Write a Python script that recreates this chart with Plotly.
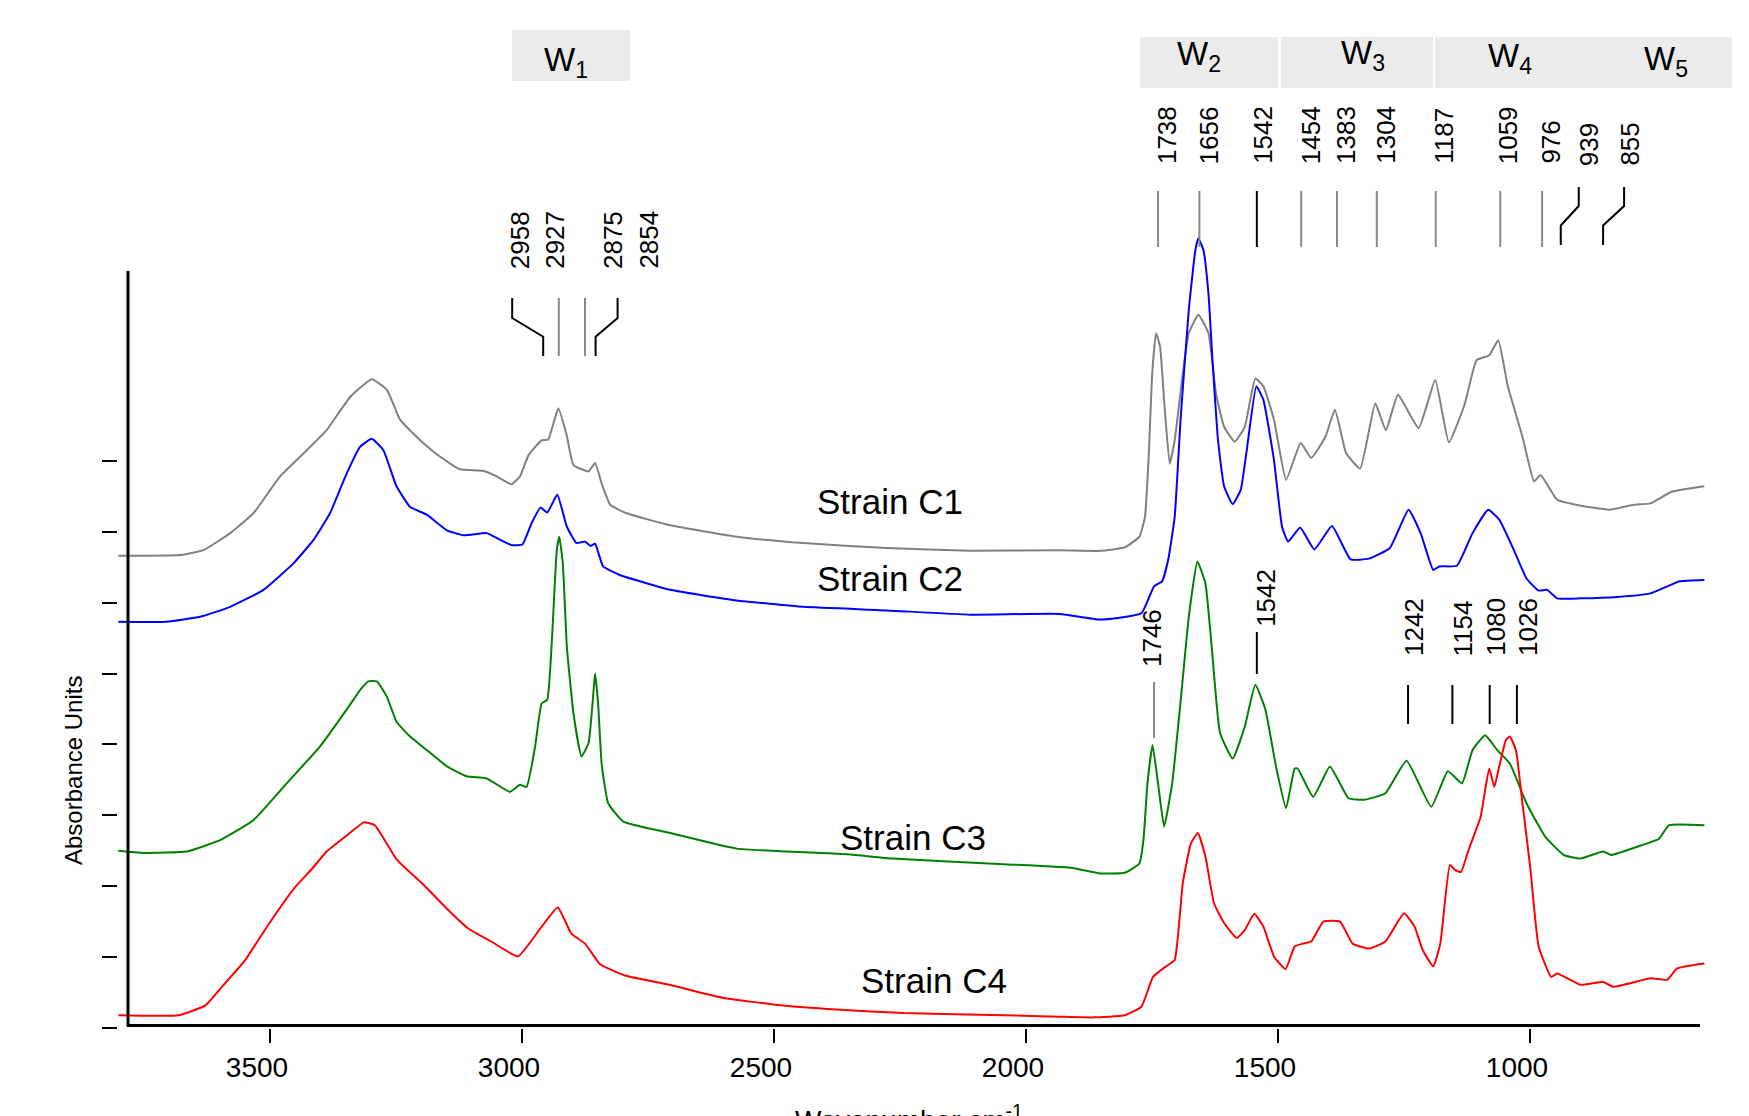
import plotly.graph_objects as go

# ---------------- data ----------------
wn_c1 = [3801, 3679, 3632, 3579, 3533, 3480, 3427, 3388, 3341, 3298, 3268, 3242, 3202, 3163, 3123, 3077,
         3050, 3021, 3004, 2987, 2961, 2948, 2928, 2911, 2898, 2868, 2855, 2842, 2825, 2792, 2706, 2574,
         2442, 2276, 2111, 1933, 1853, 1804, 1775, 1764, 1756, 1750, 1742, 1734, 1726, 1715, 1705, 1689,
         1677, 1658, 1638, 1623, 1607, 1586, 1566, 1545, 1529, 1508, 1484, 1455, 1434, 1406, 1387, 1365,
         1337, 1307, 1286, 1262, 1221, 1188, 1161, 1130, 1106, 1081, 1063, 1044, 1015, 992, 979, 946, 909,
         843, 794, 761, 720, 654]
abs_c1 = [6.66, 6.67, 6.74, 6.98, 7.26, 7.78, 8.15, 8.43, 8.90, 9.15, 9.00, 8.58, 8.29, 8.06, 7.88, 7.86,
          7.78, 7.67, 7.78, 8.08, 8.29, 8.30, 8.74, 8.35, 7.94, 7.85, 7.97, 7.68, 7.38, 7.26, 7.09, 6.93,
          6.84, 6.77, 6.73, 6.74, 6.73, 6.78, 6.93, 7.21, 8.15, 9.19, 9.80, 9.61, 8.86, 7.96, 8.29, 9.23,
          9.80, 10.06, 9.80, 8.95, 8.48, 8.27, 8.48, 9.16, 9.05, 8.58, 7.73, 8.25, 8.04, 8.34, 8.72, 8.11,
          7.89, 8.81, 8.43, 8.93, 8.46, 9.14, 8.26, 8.79, 9.42, 9.49, 9.70, 9.05, 8.34, 7.71, 7.80, 7.45, 7.38,
          7.31, 7.38, 7.40, 7.56, 7.64]

wn_c2 = [3801, 3705, 3639, 3579, 3513, 3454, 3414, 3381, 3348, 3321, 3298, 3275, 3249, 3222, 3189, 3149,
         3116, 3070, 3050, 3020, 2999, 2981, 2963, 2950, 2930, 2911, 2892, 2875, 2864, 2855, 2839, 2806,
         2706, 2574, 2442, 2276, 2111, 1933, 1853, 1771, 1746, 1730, 1718, 1705, 1693, 1677, 1664, 1658,
         1648, 1638, 1630, 1619, 1607, 1590, 1574, 1562, 1543, 1529, 1508, 1492, 1480, 1456, 1428, 1393,
         1356, 1319, 1278, 1241, 1217, 1192, 1180, 1145, 1114, 1083, 1061, 1032, 1007, 983, 966, 946, 900,
         826, 761, 703, 654]
abs_c2 = [5.73, 5.73, 5.80, 5.94, 6.18, 6.55, 6.88, 7.26, 7.82, 8.20, 8.31, 8.15, 7.64, 7.35, 7.24, 7.02,
          6.95, 6.98, 6.91, 6.81, 6.82, 7.12, 7.34, 7.27, 7.52, 7.07, 6.84, 6.86, 6.80, 6.83, 6.51, 6.39,
          6.18, 6.03, 5.94, 5.89, 5.83, 5.84, 5.76, 5.85, 6.23, 6.30, 6.60, 7.21, 8.62, 10.13, 10.97, 11.14,
          10.97, 10.36, 9.42, 8.29, 7.64, 7.39, 7.59, 8.15, 9.05, 8.86, 8.01, 7.07, 6.86, 7.06, 6.75, 7.08,
          6.61, 6.62, 6.77, 7.31, 6.98, 6.46, 6.51, 6.52, 6.98, 7.31, 7.17, 6.74, 6.34, 6.17, 6.18, 6.06, 6.06,
          6.08, 6.13, 6.30, 6.32]

wn_c3 = [3801, 3751, 3665, 3599, 3533, 3467, 3401, 3348, 3321, 3305, 3288, 3268, 3249, 3222, 3189, 3149,
         3110, 3070, 3024, 3004, 2991, 2974, 2961, 2950, 2941, 2931, 2926, 2919, 2911, 2898, 2882, 2868,
         2859, 2855, 2849, 2842, 2829, 2799, 2706, 2574, 2354, 2265, 2044, 1911, 1853, 1804, 1775, 1767,
         1759, 1749, 1738, 1726, 1710, 1693, 1677, 1660, 1644, 1631, 1615, 1590, 1566, 1545, 1525, 1504,
         1484, 1467, 1461, 1430, 1397, 1360, 1328, 1287, 1245, 1196, 1163, 1135, 1114, 1089, 1065, 1040,
         1007, 970, 933, 900, 855, 839, 786, 744, 724, 654]
abs_c3 = [2.50, 2.47, 2.49, 2.65, 2.93, 3.45, 3.97, 4.49, 4.77, 4.89, 4.89, 4.67, 4.32, 4.11, 3.92, 3.69,
          3.55, 3.52, 3.33, 3.43, 3.40, 3.97, 4.58, 4.63, 5.43, 6.74, 6.93, 6.55, 5.38, 4.44, 3.83, 4.02,
          4.67, 5.00, 4.58, 3.73, 3.17, 2.91, 2.75, 2.53, 2.45, 2.39, 2.31, 2.26, 2.18, 2.19, 2.32, 2.65,
          3.45, 3.99, 3.45, 2.84, 3.45, 4.63, 5.80, 6.58, 6.27, 5.33, 4.16, 3.80, 4.25, 4.84, 4.49, 3.69,
          3.10, 3.66, 3.66, 3.26, 3.69, 3.24, 3.22, 3.31, 3.77, 3.12, 3.62, 3.45, 3.92, 4.13, 3.92, 3.73,
          3.17, 2.70, 2.44, 2.39, 2.49, 2.44, 2.56, 2.67, 2.86, 2.86]

wn_c4 = [3801, 3681, 3628, 3593, 3550, 3504, 3451, 3416, 3389, 3345, 3314, 3292, 3248, 3194, 3150, 3106,
         3061, 3008, 2964, 2929, 2902, 2875, 2845, 2796, 2707, 2647, 2597, 2487, 2376, 2243, 2044, 1933,
         1867, 1804, 1771, 1748, 1722, 1705, 1689, 1673, 1659, 1644, 1627, 1607, 1582, 1566, 1547, 1529,
         1508, 1485, 1467, 1451, 1434, 1410, 1377, 1352, 1319, 1287, 1250, 1229, 1213, 1192, 1178, 1159,
         1149, 1137, 1122, 1098, 1081, 1071, 1061, 1048, 1040, 1028, 1015, 999, 983, 958, 946, 900, 855,
         835, 761, 728, 708, 654]
abs_c4 = [0.18, 0.18, 0.32, 0.60, 0.95, 1.45, 1.98, 2.25, 2.48, 2.73, 2.90, 2.86, 2.37, 2.01, 1.69, 1.40,
          1.22, 1.01, 1.40, 1.70, 1.33, 1.19, 0.90, 0.74, 0.61, 0.50, 0.42, 0.32, 0.26, 0.21, 0.18, 0.16,
          0.15, 0.18, 0.30, 0.72, 0.87, 0.96, 2.04, 2.60, 2.75, 2.42, 1.76, 1.48, 1.27, 1.38, 1.61, 1.43,
          1.01, 0.83, 1.15, 1.19, 1.22, 1.50, 1.50, 1.19, 1.12, 1.22, 1.62, 1.43, 1.10, 0.87, 1.19, 2.30,
          2.23, 2.20, 2.51, 2.98, 3.66, 3.40, 3.69, 4.06, 4.11, 3.92, 3.17, 2.23, 1.15, 0.72, 0.77, 0.61, 0.65,
          0.58, 0.70, 0.68, 0.84, 0.91]

series_names = ["Strain C1", "Strain C2", "Strain C3", "Strain C4"]
x_tick_vals = [3500, 3000, 2500, 2000, 1500, 1000]
y_tick_vals = [0, 1, 2, 3, 4, 5, 6, 7, 8]

peaks_w1 = [2958, 2927, 2875, 2854]
peaks_top = [1738, 1656, 1542, 1454, 1383, 1304, 1187, 1059, 976, 939, 855]
peaks_c3 = [1746, 1542, 1242, 1154, 1080, 1026]
band_labels = ["W<sub>1</sub>", "W<sub>2</sub>", "W<sub>3</sub>", "W<sub>4</sub>", "W<sub>5</sub>"]

# ---------------- layout geometry (reference pixels) ----------------
OFF = 8                      # page body margin of the browser
W, H = 1749 - OFF, 1116 - OFF
PL, PR, PT, PB = 118, 1705, OFF, 1028      # plot area in reference pixels
PX_PER_UNIT_Y = 70.9
X0, X1 = 3801.6, 652.8
Y0, Y1 = 0.0, (PB - PT) / PX_PER_UNIT_Y
FONT = "Liberation Sans, Arial, Helvetica, sans-serif"
GRAY = "#888888"

def wx(px):  # reference pixel -> wavenumber
    return X0 + (px - PL) / (PR - PL) * (X1 - X0)

def px_of(wn):
    return PL + (wn - X0) / (X1 - X0) * (PR - PL)

def ay(py):  # reference pixel -> absorbance units
    return Y0 + (PB - py) / (PB - PT) * (Y1 - Y0)

def pxp(px):  # reference pixel -> paper x
    return (px - PL) / (PR - PL)

def pyp(py):  # reference pixel -> paper y
    return (PB - py) / (PB - PT)

series_x = [wn_c1, wn_c2, wn_c3, wn_c4]
series_y = [abs_c1, abs_c2, abs_c3, abs_c4]
series_colors = ["#808080", "#0000ff", "#008000", "#ff0000"]

fig = go.Figure()
for name, xs, ys, col in zip(series_names, series_x, series_y, series_colors):
    fig.add_trace(go.Scatter(x=xs, y=ys, mode="lines", name=name,
                             line=dict(color=col, width=2, shape="spline", smoothing=0.4),
                             showlegend=False))

shapes = []
annos = []

# axis lines (offset R-style frame)
shapes.append(dict(type="line", xref="x", yref="y", x0=wx(128), x1=wx(128), y0=ay(1026.5), y1=ay(271),
                   line=dict(color="black", width=3)))
shapes.append(dict(type="line", xref="x", yref="y", x0=wx(127), x1=wx(1700), y0=ay(1025.5), y1=ay(1025.5),
                   line=dict(color="black", width=3)))

# band boxes
boxes = [(512, 630, 30, 81), (1140, 1278, 37, 88), (1281, 1433, 37, 88), (1435, 1583, 37, 88), (1583, 1732, 37, 88)]
band_centers = [(566, 62), (1199, 56), (1363, 55), (1510, 58), (1666, 61)]
for (xa, xb, ya, yb) in boxes:
    shapes.append(dict(type="rect", xref="paper", yref="paper", x0=pxp(xa), x1=pxp(xb), y0=pyp(yb), y1=pyp(ya),
                       fillcolor="#ebebeb", line=dict(width=0), layer="below"))
for lab, (cx, cy) in zip(band_labels, band_centers):
    annos.append(dict(text=lab, xref="paper", yref="paper", x=pxp(cx), y=pyp(cy), showarrow=False,
                      xanchor="center", yanchor="middle", font=dict(family=FONT, size=33, color="black")))

def add_marker(wn, label_dx, kink_dx, color, y_top, y_bot, y_kink1, y_kink2, label_bottom, size=26):
    xb = px_of(wn)
    if kink_dx:
        pts = [(xb, y_bot), (xb, y_kink2), (xb + kink_dx, y_kink1), (xb + kink_dx, y_top)]
    else:
        pts = [(xb, y_bot), (xb, y_top)]
    path = "M " + " L ".join(f"{wx(p[0])},{ay(p[1])}" for p in pts)
    shapes.append(dict(type="path", xref="x", yref="y", path=path, line=dict(color=color, width=2)))
    annos.append(dict(text=str(wn), xref="paper", yref="paper", x=pxp(xb + label_dx), y=pyp(label_bottom),
                      showarrow=False, textangle=-90, xanchor="center", yanchor="bottom",
                      font=dict(family=FONT, size=size, color="black")))

# W1 group
w1_label_dx = [-23, -4, 28, 53]
w1_kink = [-31, 0, 0, 22]
w1_color = ["black", GRAY, GRAY, "black"]
for wn, ldx, k, c in zip(peaks_w1, w1_label_dx, w1_kink, w1_color):
    add_marker(wn, ldx, k, c, 298, 356, 318, 336.7, 271)

# W2-W5 group
top_label_dx = [9, 10, 6, 10, 9, 9, 8, 8, 8, 28, 26]
top_kink = [0, 0, 0, 0, 0, 0, 0, 0, 0, 18, 21]
top_color = [GRAY, GRAY, "black", GRAY, GRAY, GRAY, GRAY, GRAY, GRAY, "black", "black"]
for wn, ldx, k, c in zip(peaks_top, top_label_dx, top_kink, top_color):
    if k:
        add_marker(wn, ldx, k, c, 187, 245, 206, 225.5, 168)
    else:
        add_marker(wn, ldx, 0, c, 191, 247, 0, 0, 166)

# Strain C3 group
c3_label_dx = [-2, 9, 6, 11, 6, 11]
c3_color = [GRAY, "black", "black", "black", "black", "black"]
c3_line = [(682, 738), (632, 674), (685, 724), (685, 724), (685, 724), (685, 724)]
c3_lab_bot = [669, 629, 658, 658, 658, 658]
for wn, ldx, c, (ya, yb), lb in zip(peaks_c3, c3_label_dx, c3_color, c3_line, c3_lab_bot):
    add_marker(wn, ldx, 0, c, ya, yb, 0, 0, lb)

# strain names
strain_pos = [(890, 502), (890, 578), (913, 837), (934, 981)]
for name, (cx, cy) in zip(series_names, strain_pos):
    annos.append(dict(text=name, xref="paper", yref="paper", x=pxp(cx), y=pyp(cy), showarrow=False,
                      xanchor="center", yanchor="middle", font=dict(family=FONT, size=35, color="black")))

# axis titles
annos.append(dict(text="Absorbance Units", xref="paper", yref="paper", x=pxp(73), y=pyp(771), showarrow=False,
                  textangle=-90, xanchor="center", yanchor="middle", font=dict(family=FONT, size=24, color="black")))
annos.append(dict(text="Wavenumber cm<sup>-1</sup>", xref="paper", yref="paper", x=pxp(909), y=pyp(1098),
                  showarrow=False, xanchor="center", yanchor="top", font=dict(family=FONT, size=28, color="black")))

fig.update_layout(
    width=W, height=H,
    margin=dict(l=PL - OFF, r=W - (PR - OFF), t=0, b=H - (PB - OFF), pad=0, autoexpand=False),
    paper_bgcolor="white", plot_bgcolor="white",
    shapes=shapes, annotations=annos,
    showlegend=False,
    xaxis=dict(range=[X0, X1], showgrid=False, zeroline=False, showline=False, automargin=False,
               tickmode="array", tickvals=x_tick_vals, ticktext=[str(v) for v in x_tick_vals],
               ticks="outside", ticklen=14, tickwidth=2, tickcolor="black",
               tickfont=dict(family=FONT, size=28, color="black"), ticklabelshift=13),
    yaxis=dict(range=[Y0, Y1], showgrid=False, zeroline=False, showline=False, automargin=False,
               tickmode="array", tickvals=y_tick_vals, showticklabels=False,
               ticks="outside", ticklen=15, tickwidth=2, tickcolor="black"),
)

fig.write_html("out.html")
